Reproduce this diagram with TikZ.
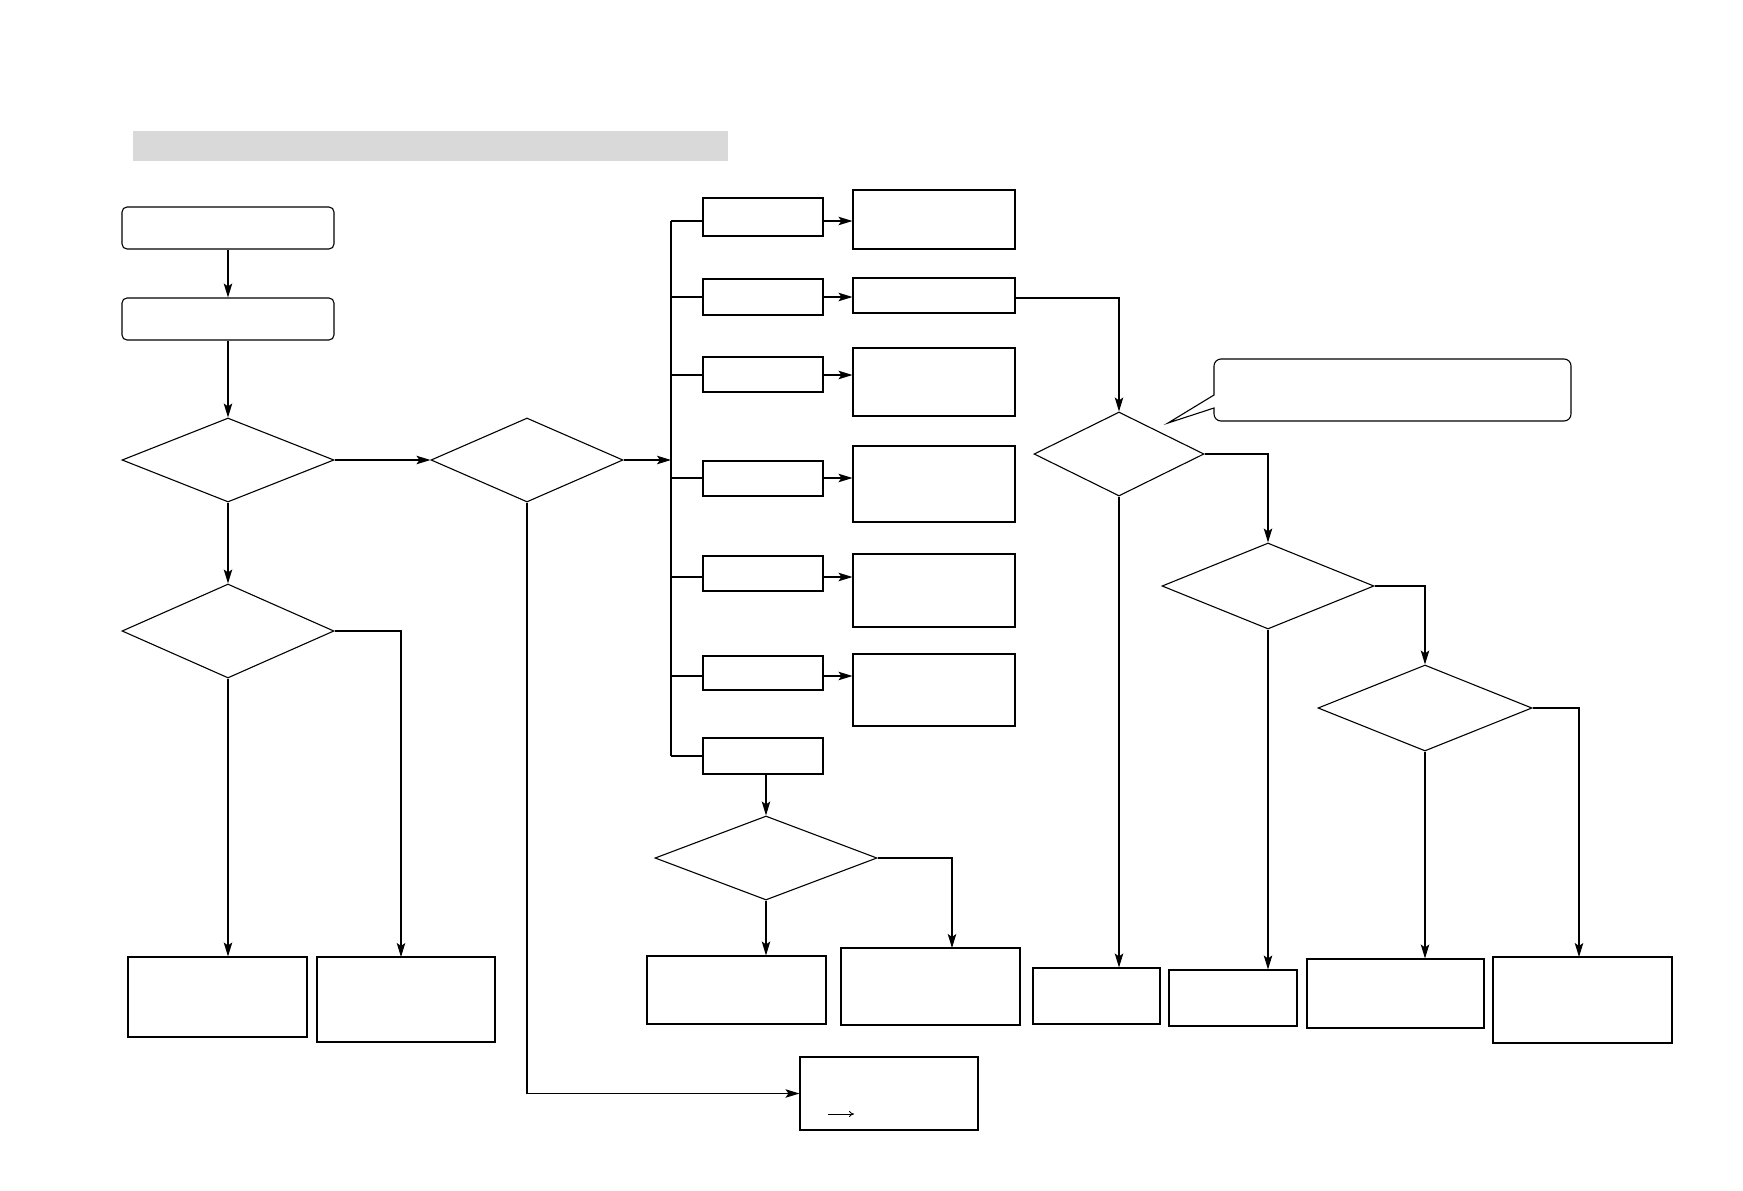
\documentclass[tikz,border=0pt]{standalone}
\usetikzlibrary{arrows.meta,shapes.geometric}
\begin{document}
\begin{tikzpicture}[x=1pt,y=-1pt,
  line width=1.1pt,
  arr/.style={-{Stealth[length=14pt,width=8.5pt,inset=3pt]}},
  rbox/.style={draw,rounded corners=5pt,inner sep=0pt},
  pbox/.style={draw,inner sep=0pt},
  dia/.style={draw,diamond,inner sep=0pt}]
\useasboundingbox (0,0) rectangle (1743,1191);
% title bar
\fill[gray!30] (133,131) rectangle (728,161);
% left column
\node[rbox,minimum width=212pt,minimum height=42pt] (A) at (228,228) {};
\node[rbox,minimum width=212pt,minimum height=42pt] (B) at (228,319) {};
\node[dia,minimum width=212pt,minimum height=84pt] (D1) at (228,460) {};
\node[dia,minimum width=192pt,minimum height=84pt] (D2) at (527,460) {};
\node[dia,minimum width=212pt,minimum height=94pt] (D3) at (228,631) {};
\node[pbox,minimum width=179pt,minimum height=80pt] (E1) at (217.5,997) {};
\node[pbox,minimum width=178pt,minimum height=85pt] (E2) at (406,999.5) {};
\node[pbox,minimum width=178pt,minimum height=73pt] (F) at (889,1093.5) {};
\coordinate (e2in) at (401,957);
\draw[arr] (A) -- (B);
\draw[arr] (B) -- (D1);
\draw[arr] (D1) -- (D2);
\draw[arr] (D1) -- (D3);
\draw[arr] (D3.south) -- (D3.south |- E1.north);
\draw[arr] (D3.east) -| (e2in);
\draw[arr] (D2.south) |- (F.west);
\coordinate (fa) at (828,1114);
\coordinate (fb) at (854,1114);
\draw[-{To[length=5pt,width=6pt]},line width=0.9pt] (fa) -- (fb);
% bus
\coordinate (busT) at (671,221);
\coordinate (busB) at (671,756);
\coordinate (busM) at (671,460);
\draw (busT) -- (busB);
\draw[arr] (D2.east) -- (busM);
% small boxes
\foreach \n/\y/\h in {1/217/38,2/297/36,3/374.5/35,4/478.5/35,5/573.5/35,6/673/34,7/756/36}{
  \node[pbox,minimum width=120pt,minimum height=\h pt] (S\n) at (763,\y) {};
}
\foreach \n/\y/\h in {1/219.5/59,2/295.5/35,3/382/68,4/484/76,5/590.5/73,6/690/72}{
  \node[pbox,minimum width=162pt,minimum height=\h pt] (T\n) at (934,\y) {};
}
\foreach \n/\y in {1/221,2/297,3/375,4/478,5/577,6/676,7/756}{
  \draw (671,\y) -- (S\n.west |- 0,\y);
}
\foreach \n/\y in {1/221,2/297,3/375,4/478,5/577,6/676}{
  \draw[arr] (S\n.east |- 0,\y) -- (T\n.west |- 0,\y);
}
% D4 branch
\node[dia,minimum width=222pt,minimum height=84pt] (D4) at (766,858) {};
\node[pbox,minimum width=179pt,minimum height=68pt] (G1) at (736.5,990) {};
\node[pbox,minimum width=179pt,minimum height=77pt] (G2) at (930.5,986.5) {};
\draw[arr] (S7.south -| D4.north) -- (D4.north);
\draw[arr] (D4.south) -- (D4.south |- G1.north);
\draw[arr] (D4.east) -| (952,948);
% right part
\node[dia,minimum width=170pt,minimum height=84pt] (D5) at (1119,454) {};
\node[dia,minimum width=212pt,minimum height=86pt] (D6) at (1268,586) {};
\node[dia,minimum width=214pt,minimum height=86pt] (D7) at (1425,708) {};
\node[pbox,minimum width=127pt,minimum height=56pt] (H1) at (1096.5,996) {};
\node[pbox,minimum width=128pt,minimum height=56pt] (H2) at (1233,998) {};
\node[pbox,minimum width=177pt,minimum height=69pt] (H3) at (1395.5,993.5) {};
\node[pbox,minimum width=179pt,minimum height=86pt] (H4) at (1582.5,1000) {};
\draw[arr] (T2.east |- 0,298) -| (D5.north);
\draw[arr] (D5.south) -- (D5.south |- H1.north);
\draw[arr] (D5.east) -| (D6.north);
\draw[arr] (D6.south) -- (D6.south |- H2.north);
\draw[arr] (D6.east) -| (D7.north);
\draw[arr] (D7.south) -- (D7.south |- H3.north);
\draw[arr] (D7.east) -| (1579,957);
% callout
\coordinate (tip) at (1168,423);
\draw (tip) -- (1214,395) [rounded corners=7pt] -- (1214,359) -- (1571,359) -- (1571,421) -- (1214,421) [sharp corners] -- (1214,408) -- cycle;
\end{tikzpicture}
\end{document}
